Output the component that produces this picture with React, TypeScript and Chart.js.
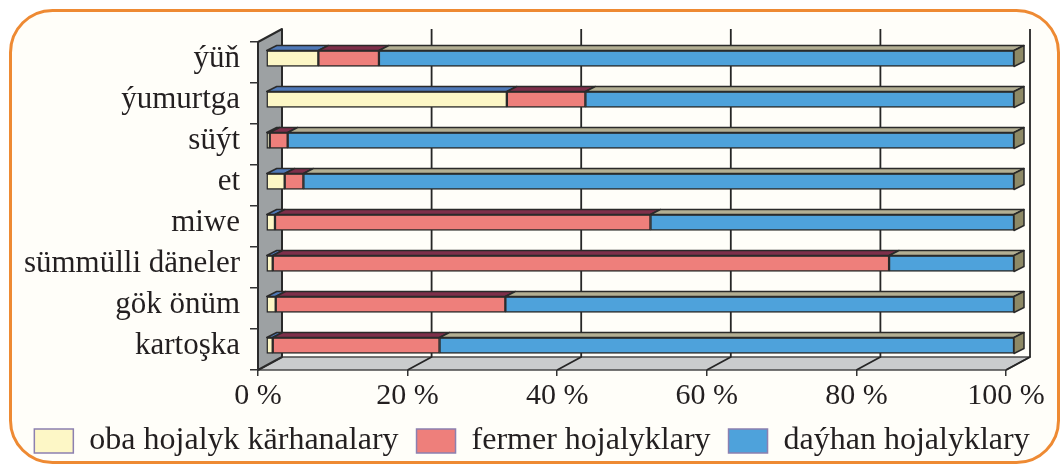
import React, { useEffect, useRef } from "react";
import { Chart, registerables } from "chart.js";

Chart.register(...registerables);

// ---------- data ----------
const categories = [
  "ýüň",
  "ýumurtga",
  "süýt",
  "et",
  "miwe",
  "sümmülli däneler",
  "gök önüm",
  "kartoşka",
];
const seriesNames = [
  "oba hojalyk kärhanalary",
  "fermer hojalyklary",
  "daýhan hojalyklary",
];
const obaValues = [7.0, 32.2, 0.5, 2.5, 1.2, 0.9, 1.3, 0.9];
const fermerValues = [8.1, 10.5, 2.4, 2.5, 50.2, 82.4, 30.7, 22.3];
const dayhanValues = [84.9, 57.3, 97.1, 95.0, 48.6, 16.7, 68.0, 76.8];
const tickValues = [0, 20, 40, 60, 80, 100];
const tickLabels = ["0 %", "20 %", "40 %", "60 %", "80 %", "100 %"];

// ---------- styles / layout ----------
const W = 1064;
const H = 469;
const PLOT_LEFT = 258;
const PLOT_RIGHT = 1006;
const PLOT_TOP = 42;
const X_MAX = (100 * (W - PLOT_LEFT)) / (PLOT_RIGHT - PLOT_LEFT);
const DEPTH_X = 24;
const DEPTH_Y = -13;
const BAR_DX = 8;
const BAR_DY = -4;
const BAR_DEPTH_X = 10;
const BAR_DEPTH_Y = 5;
const FONT = "'Liberation Serif', 'Times New Roman', serif";
const TEXT_COLOR = "#231F20";
const LINE_COLOR = "#2A2A2A";
const faceColors = ["#FDF7C6", "#EE7F7B", "#4EA2DB"];
const topColors = ["#4F79B8", "#7E2F4A", "#B3AF93"];
const CAP_COLOR = "#8D8966";
const LEGEND_BORDER = "#8C80B0";

const backdrop = {
  id: "backdrop",
  beforeDraw(chart: any) {
    const { ctx } = chart;
    const xs = chart.scales.x;
    const ys = chart.scales.y;
    ctx.save();
    // frame
    const fx = 10.5, fy = 10.5, fw = 1048, fh = 452, r = 42;
    ctx.beginPath();
    ctx.moveTo(fx + r, fy);
    ctx.lineTo(fx + fw - r, fy);
    ctx.arcTo(fx + fw, fy, fx + fw, fy + r, r);
    ctx.lineTo(fx + fw, fy + fh - r);
    ctx.arcTo(fx + fw, fy + fh, fx + fw - r, fy + fh, r);
    ctx.lineTo(fx + r, fy + fh);
    ctx.arcTo(fx, fy + fh, fx, fy + fh - r, r);
    ctx.lineTo(fx, fy + r);
    ctx.arcTo(fx, fy, fx + r, fy, r);
    ctx.closePath();
    ctx.fillStyle = "#FFFEF9";
    ctx.fill();
    ctx.lineWidth = 3;
    ctx.strokeStyle = "#EE8A33";
    ctx.stroke();

    const L = xs.getPixelForValue(0);
    const R = xs.getPixelForValue(100);
    const T = ys.top;
    const B = ys.bottom;
    ctx.lineJoin = "round";
    // floor
    ctx.beginPath();
    ctx.moveTo(L, B);
    ctx.lineTo(R, B);
    ctx.lineTo(R + DEPTH_X, B + DEPTH_Y);
    ctx.lineTo(L + DEPTH_X, B + DEPTH_Y);
    ctx.closePath();
    ctx.fillStyle = "#CACCCD";
    ctx.fill();
    ctx.lineWidth = 1.5;
    ctx.strokeStyle = "#4A4A4A";
    ctx.stroke();
    // left wall
    ctx.beginPath();
    ctx.moveTo(L, T);
    ctx.lineTo(L + DEPTH_X, T + DEPTH_Y);
    ctx.lineTo(L + DEPTH_X, B + DEPTH_Y);
    ctx.lineTo(L, B);
    ctx.closePath();
    ctx.fillStyle = "#9DA1A3";
    ctx.fill();
    ctx.lineWidth = 2;
    ctx.strokeStyle = LINE_COLOR;
    ctx.stroke();
    // back grid lines + floor diagonals
    ctx.lineWidth = 1.8;
    ctx.strokeStyle = "#262626";
    tickValues.forEach((v) => {
      if (v === 0) return;
      const xf = xs.getPixelForValue(v);
      const xb = xf + DEPTH_X;
      ctx.beginPath();
      ctx.moveTo(xb, T + DEPTH_Y);
      ctx.lineTo(xb, B + DEPTH_Y);
      ctx.lineTo(xf, B);
      ctx.stroke();
    });
    ctx.restore();
  },
};

const bars3d = {
  id: "bars3d",
  beforeDatasetsDraw(chart: any) {
    chart.ctx.save();
    chart.ctx.translate(BAR_DX, BAR_DY);
  },
  afterDatasetsDraw(chart: any) {
    const ctx = chart.ctx;
    const last = chart.data.datasets.length - 1;
    ctx.lineWidth = 1.5;
    ctx.strokeStyle = LINE_COLOR;
    ctx.lineJoin = "round";
    chart.data.datasets.forEach((_ds: any, di: number) => {
      const meta = chart.getDatasetMeta(di);
      meta.data.forEach((el: any) => {
        const { x, y, base, height } = el.getProps(["x", "y", "base", "height"], true);
        const top = y - height / 2;
        const bot = y + height / 2;
        const x0 = Math.min(x, base);
        const x1 = Math.max(x, base);
        if (x1 - x0 < 0.2) return;
        ctx.beginPath();
        ctx.moveTo(x0, top);
        ctx.lineTo(x0 + BAR_DEPTH_X, top - BAR_DEPTH_Y);
        ctx.lineTo(x1 + BAR_DEPTH_X, top - BAR_DEPTH_Y);
        ctx.lineTo(x1, top);
        ctx.closePath();
        ctx.fillStyle = topColors[di];
        ctx.fill();
        ctx.stroke();
        if (di === last) {
          ctx.beginPath();
          ctx.moveTo(x1, top);
          ctx.lineTo(x1 + BAR_DEPTH_X, top - BAR_DEPTH_Y);
          ctx.lineTo(x1 + BAR_DEPTH_X, bot - BAR_DEPTH_Y);
          ctx.lineTo(x1, bot);
          ctx.closePath();
          ctx.fillStyle = CAP_COLOR;
          ctx.fill();
          ctx.stroke();
        }
      });
    });
    ctx.restore();
  },
};

export default function App() {
  const ref = useRef<HTMLCanvasElement | null>(null);

  useEffect(() => {
    if (!ref.current) return;
    const seriesValues = [obaValues, fermerValues, dayhanValues];
    const chart = new Chart(ref.current, {
      type: "bar",
      data: {
        labels: categories,
        datasets: seriesNames.map((name, i) => ({
          label: name,
          data: seriesValues[i],
          backgroundColor: faceColors[i],
          borderColor: LINE_COLOR,
          borderWidth: 1.5,
          borderSkipped: false,
          barThickness: 16,
        })),
      },
      options: {
        indexAxis: "y",
        responsive: false,
        animation: false,
        events: [],
        layout: { padding: { top: PLOT_TOP, bottom: 2, left: 0, right: 0 } },
        scales: {
          x: {
            stacked: true,
            min: 0,
            max: X_MAX,
            afterBuildTicks: (scale: any) => {
              scale.ticks = tickValues.map((v) => ({ value: v }));
            },
            afterFit: (scale: any) => {
              scale.height = 37;
            },
            grid: {
              display: true,
              drawOnChartArea: false,
              drawTicks: true,
              tickLength: 6,
              color: "#333",
              lineWidth: 1.5,
            },
            border: { display: false },
            ticks: {
              padding: 2,
              maxRotation: 0,
              autoSkip: false,
              color: TEXT_COLOR,
              font: { family: FONT, size: 30 },
              callback: (value: any) => {
                const i = tickValues.indexOf(Number(value));
                return i >= 0 ? tickLabels[i] : "";
              },
            },
          },
          y: {
            stacked: true,
            afterFit: (scale: any) => {
              scale.width = PLOT_LEFT;
            },
            grid: {
              display: true,
              offset: true,
              drawOnChartArea: false,
              drawTicks: true,
              tickLength: 8,
              color: "#333",
              lineWidth: 1.5,
            },
            border: { display: false },
            ticks: {
              padding: 10,
              labelOffset: -4,
              autoSkip: false,
              color: TEXT_COLOR,
              font: { family: FONT, size: 31 },
            },
          },
        },
        plugins: {
          tooltip: { enabled: false },
          legend: {
            display: true,
            position: "bottom",
            align: "center",
            labels: {
              boxWidth: 39,
              boxHeight: 24,
              padding: 18,
              color: TEXT_COLOR,
              font: { family: FONT, size: 32 },
              generateLabels: (chart: any) => {
                const items = (Chart.defaults.plugins.legend.labels as any).generateLabels(chart);
                return items.map((it: any) => ({
                  ...it,
                  strokeStyle: LEGEND_BORDER,
                  lineWidth: 1.5,
                }));
              },
            },
          },
        },
      },
      plugins: [backdrop, bars3d],
    } as any);
    return () => chart.destroy();
  }, []);

  return (
    <div style={{ position: "fixed", left: 0, top: 0, width: W, height: H, background: "#fff" }}>
      <canvas ref={ref} width={W} height={H} style={{ width: W, height: H, display: "block" }} />
    </div>
  );
}
